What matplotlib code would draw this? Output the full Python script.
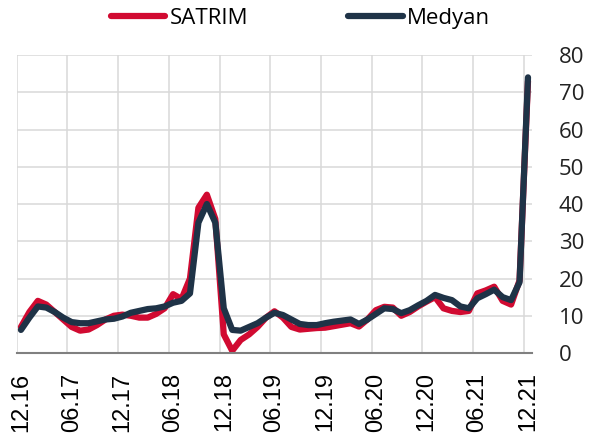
import numpy as np
import matplotlib
matplotlib.use("Agg")
import matplotlib.pyplot as plt

# aylik seriler, 12.16 - 12.21
satrim = [7.0, 11.0, 14.0, 13.0, 11.0, 9.0, 7.0, 6.0, 6.3, 7.5, 9.0, 10.0, 10.3,
          10.0, 9.5, 9.5, 10.5, 12.0, 15.8, 14.5, 20.0, 39.0, 42.5, 36.0, 5.0,
          0.6, 3.5, 5.0, 7.0, 9.5, 11.2, 9.5, 7.0, 6.3, 6.5, 6.7, 6.8, 7.2,
          7.6, 8.0, 7.1, 9.0, 11.5, 12.4, 12.2, 10.0, 11.0, 12.5, 13.8, 15.0,
          12.0, 11.3, 11.0, 11.3, 16.0, 16.8, 17.8, 14.0, 13.0, 19.5, 73.0]
medyan = [6.2, 9.5, 12.5, 12.2, 11.0, 9.5, 8.3, 8.0, 8.0, 8.5, 9.0, 9.2, 9.8,
          10.8, 11.3, 11.8, 12.0, 12.5, 13.5, 14.0, 16.0, 35.0, 40.0, 35.0, 12.0,
          6.2, 6.0, 7.0, 8.0, 9.5, 10.8, 10.2, 9.0, 7.8, 7.5, 7.5, 8.0, 8.4,
          8.7, 9.0, 7.8, 9.0, 10.5, 12.0, 11.8, 10.7, 11.5, 12.8, 14.0, 15.6,
          14.8, 14.2, 12.5, 12.0, 14.7, 15.8, 17.0, 15.0, 14.2, 19.0, 74.0]
tick_labels = ["12.16", "06.17", "12.17", "06.18", "12.18", "06.19",
               "12.19", "06.20", "12.20", "06.21", "12.21"]

red = "#d10a31"
navy = "#1f3347"

x = np.arange(len(satrim))

fig = plt.figure(figsize=(5.93, 4.37), dpi=100)
ax = fig.add_axes([0.0282, 0.1922, 0.8693, 0.6819])

l1, = ax.plot(x, satrim, color=red, lw=4.5, solid_capstyle="round",
              solid_joinstyle="round", label="SATRIM")
l2, = ax.plot(x, medyan, color=navy, lw=4.5, solid_capstyle="round",
              solid_joinstyle="round", label="Medyan")

ax.set_xlim(-0.5, len(x) - 0.5)
ax.set_ylim(0, 80)

# etiketler kategorinin ortasinda, izgara kategori sinirinda
ax.set_xticks(x[::6])
ax.set_xticklabels(tick_labels, rotation=90, fontsize=17,
                   family="Liberation Sans")
ax.set_xticks(x[::6] - 0.5, minor=True)
ax.tick_params(axis="x", which="both", length=0, pad=14)
ax.grid(True, axis="x", which="minor", color="#d9d9d9", lw=1.1)

ax.set_yticks(np.arange(0, 81, 10))
ax.yaxis.tick_right()
ax.tick_params(axis="y", length=0, pad=19, labelsize=16)
for t in ax.get_yticklabels():
    t.set_family("Open Sans")
    t.set_color("#222222")
    t.set_horizontalalignment("left")
ax.grid(True, axis="y", color="#d9d9d9", lw=1.1)
ax.set_axisbelow(True)

for s in ["left", "right", "top"]:
    ax.spines[s].set_visible(False)
ax.spines["bottom"].set_color("#808080")
ax.spines["bottom"].set_linewidth(1.5)

fig.legend(handles=[l1, l2], loc="center", bbox_to_anchor=(0.507, 0.958),
           ncol=2, frameon=False, handlelength=2.45, handletextpad=0.2,
           columnspacing=4.5, prop={"family": "Open Sans", "size": 16})

fig.savefig("out.png", dpi=100)
